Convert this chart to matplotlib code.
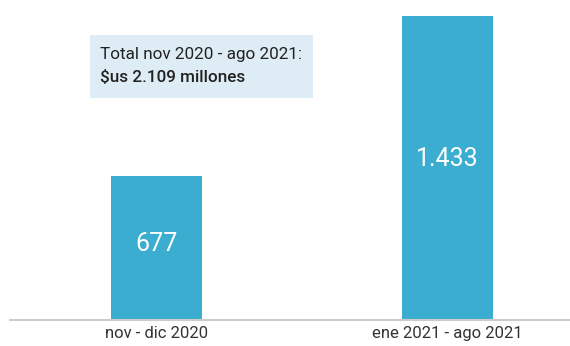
import matplotlib
matplotlib.use("Agg")
import matplotlib.pyplot as plt
from matplotlib.patches import Rectangle

plt.rcParams['font.family'] = ['Roboto', 'DejaVu Sans']

# data
categories = ["nov - dic 2020", "ene 2021 - ago 2021"]
values = [677, 1433]
value_labels = ["677", "1.433"]
note_lines = ["Total nov 2020 - ago 2021:", "$us 2.109 millones"]

bar_color = "#3AADD0"

fig = plt.figure(figsize=(5.70, 3.46), dpi=100)
ax = fig.add_axes([10 / 570, 26 / 346, 560 / 570, 320 / 346])

x = list(range(len(categories)))
ax.bar(x, values, width=0.313, color=bar_color, zorder=2)

ax.set_xlim(-0.503, 1.421)
ax.set_ylim(0, 1508)

for xi, v, lab in zip(x, values, value_labels):
    ax.text(xi, v * 0.53, lab, ha="center", va="center", color="white", fontsize=18)

ax.set_xticks(x)
ax.set_xticklabels(categories, fontsize=12, color="#333333")
ax.tick_params(axis="x", length=0, pad=4)
ax.set_yticks([])

for s in ["top", "right", "left"]:
    ax.spines[s].set_visible(False)
ax.spines["bottom"].set_color("#cccccc")
ax.spines["bottom"].set_linewidth(1.5)

# note box
box = Rectangle((90 / 570, (346 - 98) / 346), 223 / 570, 63 / 346,
                transform=fig.transFigure, facecolor="#DEEDF5", edgecolor="none", zorder=0)
fig.patches.append(box)
fig.text(100 / 570, 1 - 54 / 346, note_lines[0], fontsize=12.3, color="#222222", va="center")
fig.text(100 / 570, 1 - 77 / 346, note_lines[1], fontsize=12.3, color="#222222", va="center",
         fontweight="medium")

fig.savefig("out.png", dpi=100)
